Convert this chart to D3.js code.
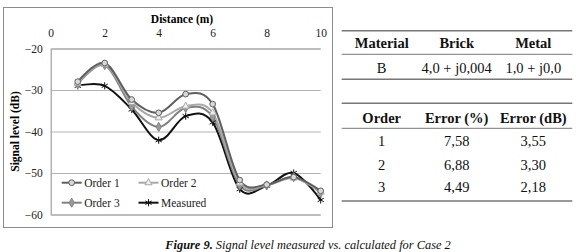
<!DOCTYPE html>
<html>
<head>
<meta charset="utf-8">
<script src="https://cdn.jsdelivr.net/npm/d3@7"></script>
<style>
  body { margin: 0; background: #fff; }
  svg text { font-family: "Liberation Serif", "Times New Roman", Times, serif !important; }
</style>
</head>
<body>
<svg class="fig"></svg>
<script>
// chart data
var distance = [1, 2, 3, 4, 5, 6, 7, 8, 9, 10];
var order1 = [-28.0, -23.5, -32.3, -35.5, -31.0, -33.4, -51.7, -52.8, -51.0, -54.3];
var order2 = [-28.4, -23.8, -33.0, -36.7, -33.9, -35.5, -52.4, -52.9, -51.2, -54.6];
var order3 = [-28.6, -24.0, -34.0, -38.9, -34.3, -36.5, -53.0, -53.0, -51.0, -54.8];
var measured = [-29.0, -29.0, -34.7, -42.1, -36.3, -37.8, -53.9, -53.1, -50.0, -56.5];
var seriesNames = ["Order 1", "Order 2", "Order 3", "Measured"];
var xTicks = [0, 2, 4, 6, 8, 10];
var yTicks = [-20, -30, -40, -50, -60];

// table data
var matHeader = ["Material", "Brick", "Metal"];
var matRow = ["B", "4,0 + j0,004", "1,0 + j0,0"];
var errHeader = ["Order", "Error (%)", "Error (dB)"];
var errRows = [["1", "7,58", "3,55"], ["2", "6,88", "3,30"], ["3", "4,49", "2,18"]];

const svgWidth = 580;
const svgHeight = 252;

const svg = d3.select('.fig')
  .attr("width", svgWidth)
  .attr("height", svgHeight);

// chart frame
svg.append("rect")
  .attr("x", 3.5).attr("y", 7.5)
  .attr("width", 329).attr("height", 220)
  .attr("fill", "none")
  .attr("stroke", "#8c8c8c");

var x = d3.scaleLinear().domain([0, 10]).range([50.7, 320.7]);
var y = d3.scaleLinear().domain([-60, -20]).range([214.5, 48.5]);

// gridlines + y axis
var yAxis = svg.append("g")
  .attr("transform", "translate(" + x(0) + ",0)")
  .call(d3.axisLeft(y).tickValues(yTicks).tickSize(-(x(10) - x(0))).tickPadding(8));
yAxis.select(".domain").attr("stroke", "#8c8c8c");
yAxis.selectAll(".tick line").attr("stroke", "#b4b4b4");
yAxis.selectAll("text")
  .attr("font-size", 11.5)
  .attr("fill", "#222");

// x axis on top
var xAxis = svg.append("g")
  .attr("transform", "translate(0," + y(-20) + ")")
  .call(d3.axisTop(x).tickValues(xTicks).tickSize(0).tickPadding(12));
xAxis.select(".domain").remove();
xAxis.selectAll("text")
  .attr("font-size", 11.5)
  .attr("fill", "#222");

svg.append("text")
  .text("Distance (m)")
  .attr("x", 182).attr("y", 23)
  .attr("text-anchor", "middle")
  .attr("font-size", 11.5)
  .attr("font-weight", "bold");

svg.append("text")
  .text("Signal level (dB)")
  .attr("transform", "translate(19," + y(-40) + ") rotate(-90)")
  .attr("text-anchor", "middle")
  .attr("font-size", 11.5)
  .attr("font-weight", "bold");

// series styles
var series = [
  { name: seriesNames[0], values: order1, color: "#5f5f5f", symbol: d3.symbolCircle, size: 26, fill: "#d8d8d8" },
  { name: seriesNames[1], values: order2, color: "#a8a8a8", symbol: d3.symbolTriangle, size: 22, fill: "#eeeeee" },
  { name: seriesNames[2], values: order3, color: "#828282", symbol: d3.symbolDiamond, size: 24, fill: "#9a9a9a" },
  { name: seriesNames[3], values: measured, color: "#111111", symbol: d3.symbolAsterisk, size: 36, fill: "none" }
];

var line = d3.line()
  .x(function(d, i) { return x(distance[i]); })
  .y(function(d) { return y(d); })
  .curve(d3.curveCardinal.tension(0));

var plot = svg.append("g");
series.slice().reverse().forEach(function(s) {
  plot.append("path")
    .datum(s.values)
    .attr("fill", "none")
    .attr("stroke", s.color)
    .attr("stroke-width", 2)
    .attr("d", line);
});
series.slice().reverse().forEach(function(s) {
  plot.selectAll(null)
    .data(s.values)
    .enter().append("path")
    .attr("transform", function(d, i) { return "translate(" + x(distance[i]) + "," + y(d) + ")"; })
    .attr("d", d3.symbol().type(s.symbol).size(s.size))
    .attr("fill", s.fill)
    .attr("stroke", s.color)
    .attr("stroke-width", 1);
});

// legend
var legendPos = [[61.7, 182.7], [138.5, 182.7], [61.7, 202.7], [138.5, 202.7]];
series.forEach(function(s, i) {
  var g = svg.append("g").attr("transform", "translate(" + legendPos[i][0] + "," + legendPos[i][1] + ")");
  g.append("line").attr("x1", 0).attr("x2", 20).attr("y1", 0).attr("y2", 0)
    .attr("stroke", s.color).attr("stroke-width", 2);
  g.append("path").attr("transform", "translate(10,0)")
    .attr("d", d3.symbol().type(s.symbol).size(s.size))
    .attr("fill", s.fill).attr("stroke", s.color);
  g.append("text").text(s.name)
    .attr("x", 22.5).attr("y", 4)
    .attr("font-size", 11.5)
    .attr("fill", "#222");
});

// tables
var tx0 = 341.7, tx1 = 572.3;
var colX = [381.7, 456.7, 533.3];
var rules = [
  [30.7, 1.6], [54.3, 1], [79.3, 1.6],
  [103.3, 1.6], [128.3, 1], [201, 1.6]
];
rules.forEach(function(r) {
  svg.append("line")
    .attr("x1", tx0).attr("x2", tx1)
    .attr("y1", r[0]).attr("y2", r[0])
    .attr("stroke", "#777")
    .attr("stroke-width", r[1]);
});

function tableRow(cells, yPos, bold) {
  cells.forEach(function(c, i) {
    svg.append("text")
      .text(c)
      .attr("x", colX[i]).attr("y", yPos)
      .attr("text-anchor", "middle")
      .attr("font-size", 14.5)
      .attr("font-weight", bold ? "bold" : "normal")
      .attr("fill", "#111");
  });
}
tableRow(matHeader, 48, true);
tableRow(matRow, 73, false);
tableRow(errHeader, 123, true);
errRows.forEach(function(r, i) {
  tableRow(r, [146, 170, 191.5][i], false);
});

// caption
var cap = svg.append("text")
  .attr("x", 308).attr("y", 249)
  .attr("text-anchor", "middle")
  .attr("font-size", 12.4)
  .attr("font-style", "italic")
  .attr("fill", "#111");
cap.append("tspan").attr("font-weight", "bold").text("Figure 9.");
cap.append("tspan").text(" Signal level measured vs. calculated for Case 2");
</script>
</body>
</html>
